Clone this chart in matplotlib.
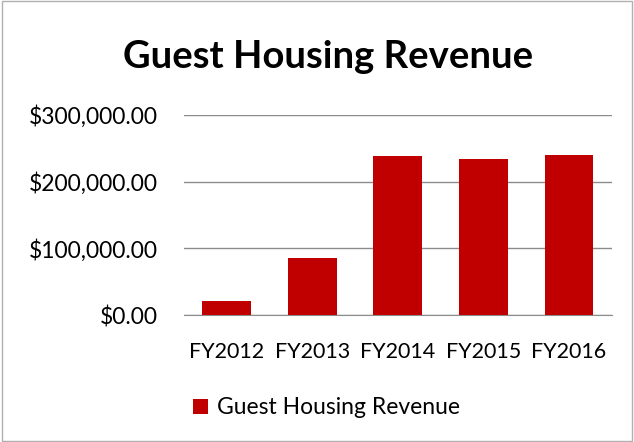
import matplotlib.pyplot as plt
from matplotlib.patches import Rectangle
from matplotlib.ticker import FuncFormatter

years = ["FY2012", "FY2013", "FY2014", "FY2015", "FY2016"]
revenue = [20500, 86000, 238000, 234000, 240000]
bar_color = "#C00000"

plt.rcParams['font.family'] = ['Lato', 'DejaVu Sans']

fig = plt.figure(figsize=(6.34, 4.42), dpi=100)
ax = fig.add_axes([0.290, 0.287, 0.675, 0.453])

ax.bar(years, revenue, width=0.57, color=bar_color, zorder=3,
       label="Guest Housing Revenue")
ax.set_ylim(0, 300000)
ax.set_xlim(-0.5, 4.5)
ax.set_yticks([0, 100000, 200000, 300000])
ax.yaxis.set_major_formatter(FuncFormatter(lambda v, p: "${:,.2f}".format(v)))
ax.grid(axis='y', color='#8c8c8c', linewidth=1, zorder=0)
for s in ['top', 'right', 'left']:
    ax.spines[s].set_visible(False)
ax.spines['bottom'].set_color('#8c8c8c')
ax.tick_params(axis='y', length=0, labelsize=16.5, colors='black', pad=19)
ax.tick_params(axis='x', length=0, labelsize=15.5, colors='black', pad=19)

fig.text(0.518, 0.870, "Guest Housing Revenue", ha='center', va='center',
         fontsize=27.5, fontweight='bold')

fig.legend(loc='center', bbox_to_anchor=(0.515, 0.077), frameon=False,
           fontsize=16.5, handlelength=0.65, handleheight=0.65, handletextpad=0.4)

fig.patches.append(Rectangle((0.003, 0.003), 0.994, 0.994, transform=fig.transFigure,
                             fill=False, edgecolor='#b0b0b0', linewidth=1))

fig.savefig("out.png", dpi=100)
